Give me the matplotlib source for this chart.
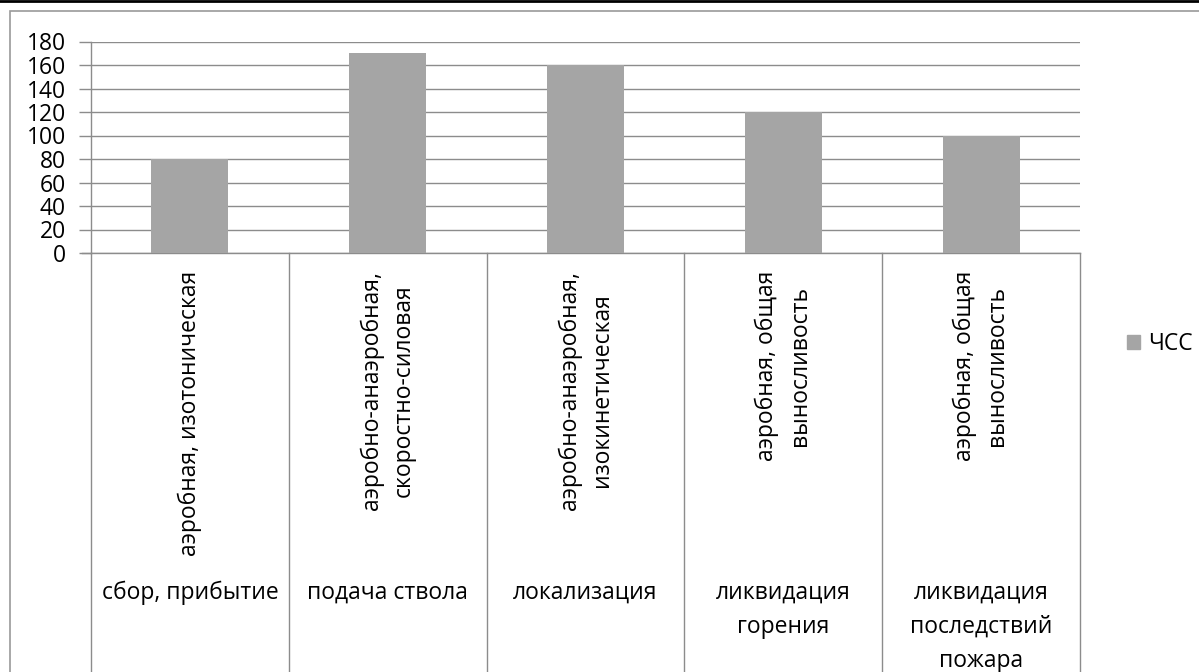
import matplotlib
matplotlib.use("Agg")
import matplotlib.pyplot as plt
import matplotlib.patches as mpatches
from matplotlib.lines import Line2D
from matplotlib.transforms import blended_transform_factory

plt.rcParams['font.family'] = ['Open Sans', 'DejaVu Sans']

# данные
stages = ["сбор, прибытие", "подача ствола", "локализация",
          "ликвидация\nгорения", "ликвидация\nпоследствий\nпожара"]
load_types = ["аэробная, изотоническая",
              "аэробно-анаэробная,\nскоростно-силовая",
              "аэробно-анаэробная,\nизокинетическая",
              "аэробная, общая\nвыносливость",
              "аэробная, общая\nвыносливость"]
hr_values = [80, 170, 160, 120, 100]
series_name = "ЧСС"
yticks = list(range(0, 181, 20))

W, H = 1199, 672
bar_color = "#a5a5a5"
line_color = "#8c8c8c"
fs = 16.5

fig = plt.figure(figsize=(W / 100, H / 100), dpi=100)

# рамка диаграммы и черная линия сверху
fig.add_artist(mpatches.Rectangle((10 / W, -0.1), 1.2, (H - 11) / H + 0.1,
                                  transform=fig.transFigure, fill=False,
                                  edgecolor="#9a9a9a", linewidth=1.2))
fig.add_artist(Line2D([0, 1], [1 - 1 / H, 1 - 1 / H], transform=fig.transFigure,
                      color="black", linewidth=2))

left, right, top, bottom = 91, 1080, 41.5, 253
ax = fig.add_axes([left / W, (H - bottom) / H, (right - left) / W, (bottom - top) / H])

x = list(range(len(hr_values)))
ax.bar(x, hr_values, width=0.39, color=bar_color, zorder=3)
ax.set_xlim(-0.5, len(hr_values) - 0.5)
ax.set_ylim(0, 180)
ax.set_yticks(yticks)
ax.set_yticklabels([str(v) for v in yticks], fontsize=fs)
ax.yaxis.grid(True, color=line_color, linewidth=1)
ax.set_axisbelow(True)
ax.tick_params(axis="y", length=9, width=1, color=line_color, pad=9)
ax.set_xticks([])
for s in ["top", "right"]:
    ax.spines[s].set_visible(False)
for s in ["left", "bottom"]:
    ax.spines[s].set_color(line_color)
    ax.spines[s].set_linewidth(1)

# многоуровневая ось категорий
tr = blended_transform_factory(ax.transData, fig.transFigure)
ax.add_line(Line2D([-0.5 - 9 / 198, -0.5], [(H - bottom) / H] * 2, transform=tr,
                   color=line_color, linewidth=1, clip_on=False))
for b in [i - 0.5 for i in range(len(hr_values) + 1)]:
    ax.add_line(Line2D([b, b], [(H - bottom) / H, -0.05], transform=tr,
                       color=line_color, linewidth=1, clip_on=False))
for i, (lt, st) in enumerate(zip(load_types, stages)):
    ax.text(i, (H - 271) / H, lt, transform=tr, rotation=90, ha="center",
            va="top", multialignment="center", fontsize=fs, linespacing=1.45,
            clip_on=False)
    ax.text(i, (H - 581) / H, st, transform=tr, ha="center", va="top",
            multialignment="center", fontsize=fs, linespacing=1.55,
            clip_on=False)

# легенда
fig.legend(handles=[mpatches.Patch(color=bar_color, label=series_name)],
           loc="center left", bbox_to_anchor=(1106 / W, (H - 344) / H),
           frameon=False, fontsize=fs, handlelength=0.6, handleheight=0.6,
           handletextpad=0.35)

fig.savefig("out.png", dpi=100)
